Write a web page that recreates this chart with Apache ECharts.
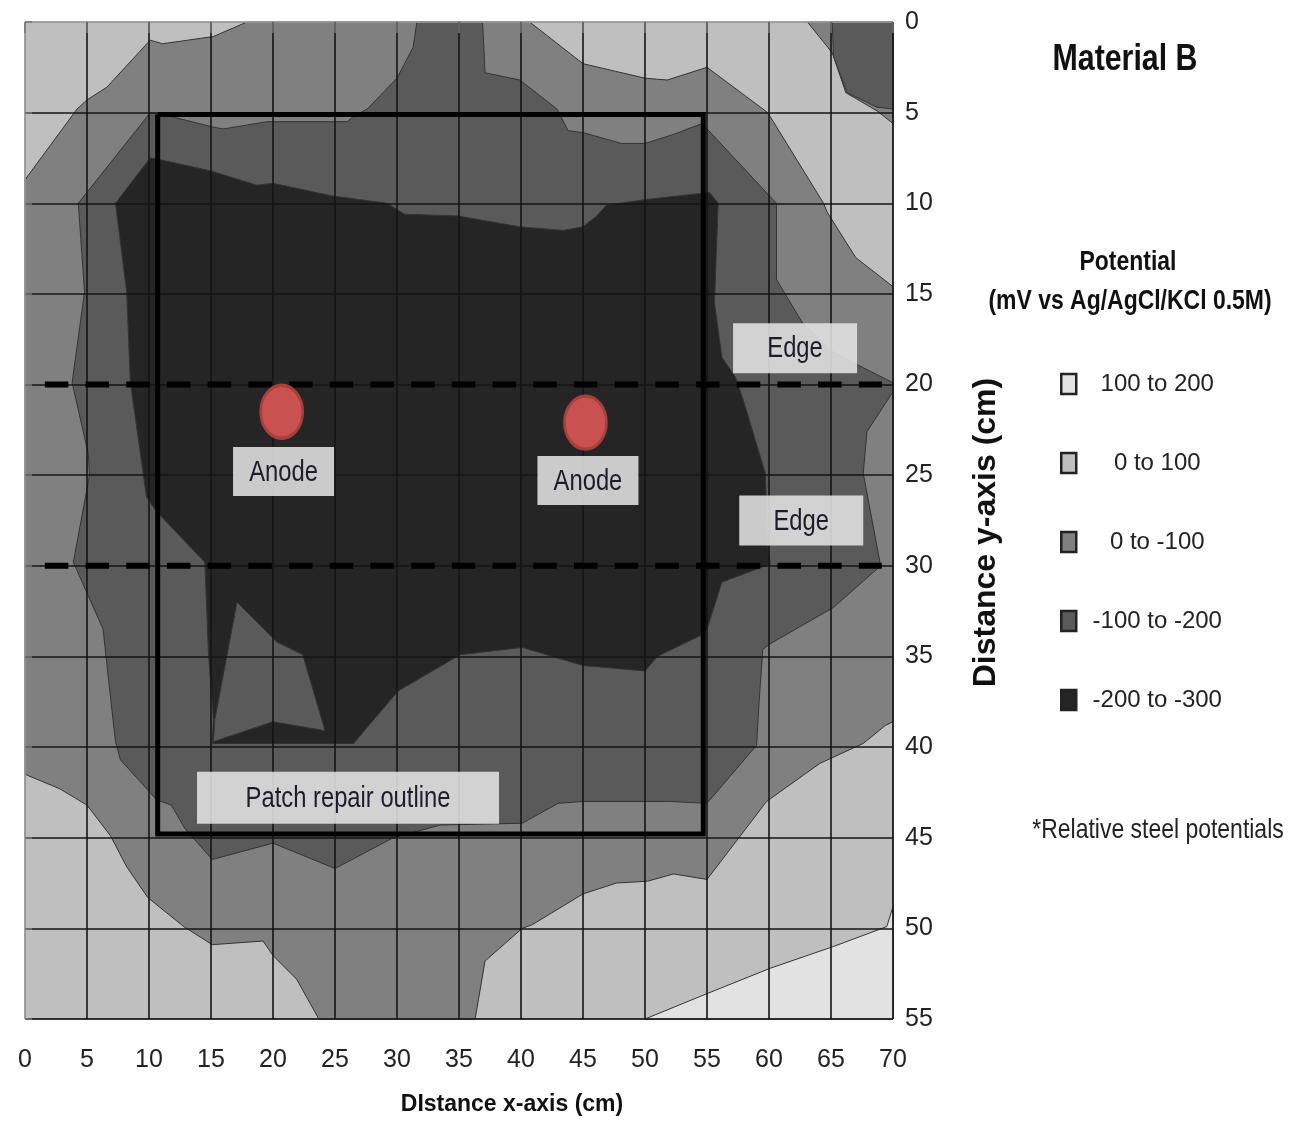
<!DOCTYPE html>
<html><head><meta charset="utf-8">
<script src="https://cdn.jsdelivr.net/npm/echarts@6/dist/echarts.min.js"></script>
<style>html,body{margin:0;padding:0;background:#fff}#c{width:1294px;height:1121px}</style>
</head><body><div id="c"></div>
<script>
// ---------- data (cm) ----------
const xTicks = [0,5,10,15,20,25,30,35,40,45,50,55,60,65,70];
const yTicks = [0,5,10,15,20,25,30,35,40,45,50,55];
const levelNames = ['100 to 200','0 to 100','0 to -100','-100 to -200','-200 to -300'];

// potential zones as contour polygons [x, y]
const zone0to100 = [[0,0],[70,0],[70,55],[0,55]];
const zone100to200 = [[50,55],[55,53.6],[60.1,52.2],[65.2,51.0],[69.5,49.9],[70,48.8],[70,55]];
const zoneBelow0 = [[0,8.7],[4.2,4.8],[5.0,4.3],[6.6,3.6],[10.1,1.0],[11.1,1.2],[15.2,0.8],[17.9,0],[40.7,0],[45.0,2.3],[50.0,3.1],[51.8,3.2],[55.0,2.5],[59.9,5.0],[64.4,10.0],[64.7,10.5],[67.0,13.0],[70,14.6],[70,38.6],[69.4,38.8],[67.6,39.8],[64.1,40.9],[59.8,43.0],[57.8,44.8],[55.0,47.3],[52.3,47.0],[50.2,47.4],[47.7,47.5],[45.0,48.1],[40.9,49.8],[40.1,50.0],[37.1,51.8],[36.3,55],[23.7,55],[21.9,52.8],[20.0,51.5],[19.2,50.7],[15.1,50.9],[12.8,49.9],[9.9,48.3],[8.2,46.6],[6.9,44.9],[5.0,43.2],[2.8,42.3],[0,41.5]];
const zoneBelow0Corner = [[63.1,0],[65.1,1.7],[66.2,3.9],[68.7,4.9],[70,5.6],[70,0]];
const zoneBelowM100 = [[31.6,0],[36.9,0],[37.1,2.8],[39.9,3.2],[42.9,4.8],[43.8,6.0],[45.0,6.1],[48.1,6.7],[50.0,6.7],[52.3,6.2],[54.6,5.6],[60.6,10.0],[60.6,14.2],[62.7,16.6],[64.9,18.1],[67.1,18.9],[70,19.9],[70,20.4],[67.9,22.6],[67.6,24.9],[69.0,30.0],[65.2,32.3],[60.1,34.3],[59.5,34.6],[59.2,37.5],[59.0,39.9],[55.0,43.1],[52.0,43.0],[45.0,43.0],[43.0,43.1],[40.1,44.2],[33.5,44.3],[29.7,45.0],[25.0,46.7],[20.0,45.3],[15.1,46.2],[12.9,44.5],[11.8,43.2],[10.6,42.9],[7.7,40.7],[7.3,39.7],[7.1,38.5],[6.5,34.8],[6.3,33.5],[3.9,29.8],[5.2,25.0],[5.1,23.8],[3.8,19.9],[4.8,14.9],[4.3,10.0],[10.1,5.0],[11.1,5.1],[15.2,5.8],[16.0,5.9],[19.5,5.5],[26.0,5.5],[26.5,5.2],[27.6,4.8],[30.0,3.1],[31.3,1.4]];
const zoneBelowM100Corner = [[65.1,0],[65.2,1.9],[66.3,3.9],[68.7,4.7],[70,4.8],[70,0]];
const zoneBelowM100Notch = [[17.1,32.0],[20.3,34.2],[22.4,34.9],[24.2,39.1],[20.0,38.6],[15.2,39.7],[15.3,38.5]];
const zoneBelowM200 = [[7.3,10.0],[10.1,7.5],[10.9,7.6],[14.9,8.2],[18.7,9.0],[20.0,8.9],[24.8,9.6],[29.2,10.0],[30.6,10.6],[34.9,10.7],[39.9,11.3],[43.4,11.5],[45.0,11.3],[46.1,10.7],[46.9,10.1],[50.0,9.8],[55.2,9.4],[55.9,10.0],[55.6,15.5],[56.2,18.5],[57.3,19.6],[57.9,20.8],[59.7,24.9],[59.9,28.9],[60.1,29.9],[56.2,30.9],[55.0,33.5],[54.6,33.8],[51.0,35.0],[50.0,35.8],[45.0,35.5],[40.1,34.5],[35.1,34.9],[30.1,36.9],[28.1,38.5],[26.5,39.8],[15.1,39.8],[15.2,38.5],[14.8,34.9],[14.5,29.8],[10.6,27.0],[9.8,26.2],[8.5,19.9],[8.2,14.9]];

// annotations
const patchOutline = [[10.7,5.1],[54.7,5.1],[54.7,44.8],[10.7,44.8],[10.7,5.1]];
const edgeLineY = [20, 30];
const edgeLineX = [1.6, 69.1];
const anodes = [[20.7,21.5],[45.2,22.1]];
const labelTexts = ['Anode','Anode','Edge','Edge','Patch repair outline'];
const labelAnchors = [[20.85,24.8],[45.4,25.3],[62.1,18.0],[62.6,27.5],[26.05,42.8]];

// ---------- rendering ----------
const SANS = '"Liberation Sans",Arial,sans-serif';
const NARROW_SCALE = 0.82;
const colors = {'100 to 200':'#e2e2e2','0 to 100':'#bfbfbf','0 to -100':'#808080','-100 to -200':'#5a5a5a','-200 to -300':'#252525'};
const boxSize = {'Anode':[101,49],'Edge':[124,50],'Patch repair outline':[302,52]};

function zoneSeries(name, polys) {
  return {
    type:'custom', name, coordinateSystem:'cartesian2d', z:1, silent:true,
    itemStyle:{color:colors[name]},
    data: polys.map((p,i)=>[i]),
    renderItem:(params, api)=>{
      const p = polys[params.dataIndex];
      return {type:'polygon', z2:p.order,
        shape:{points:p.pts.map(pt=>api.coord(pt))},
        style:{fill:colors[name], stroke:'#333', lineWidth:1}};
    }
  };
}

const series = [
  zoneSeries('0 to 100', [{pts:zone0to100, order:0}]),
  zoneSeries('100 to 200', [{pts:zone100to200, order:1}]),
  zoneSeries('0 to -100', [{pts:zoneBelow0, order:2},{pts:zoneBelow0Corner, order:2}]),
  zoneSeries('-100 to -200', [{pts:zoneBelowM100, order:3},{pts:zoneBelowM100Corner, order:3},{pts:zoneBelowM100Notch, order:5}]),
  zoneSeries('-200 to -300', [{pts:zoneBelowM200, order:4}]),
  {type:'line', name:'patch', data:patchOutline, symbol:'none', z:6, silent:true,
   lineStyle:{color:'#000', width:5, join:'miter'}},
];
edgeLineY.forEach(y=>series.push({type:'line', data:edgeLineX.map(x=>[x,y]), symbol:'none', z:6, silent:true,
   lineStyle:{color:'#000', width:6, type:[23.5,17.2], cap:'butt'}}));
series.push({type:'scatter', data:anodes, symbol:'circle', symbolSize:[42,53], z:7, silent:true,
   itemStyle:{color:'#c9514f', opacity:1, borderColor:'#a8403d', borderWidth:3}});
series.push({type:'custom', coordinateSystem:'cartesian2d', z:7, silent:true,
   data: labelAnchors.map((a,i)=>[a[0],a[1],i]),
   renderItem:(params, api)=>{
     const c = api.coord([api.value(0), api.value(1)]);
     const t = labelTexts[api.value(2)];
     const s = boxSize[t];
     return {type:'group', children:[
       {type:'rect', shape:{x:c[0]-s[0]/2, y:c[1]-s[1]/2, width:s[0], height:s[1]}, style:{fill:'rgba(226,226,226,0.88)'}},
       {type:'text', x:c[0], y:c[1]+1, scaleX:NARROW_SCALE, style:{text:t, fill:'#1c1c2a', font:'29px '+SANS, align:'center', verticalAlign:'middle'}}
     ]};
   }});

const gridColorsX = xTicks.map((v,i)=>i===0?'#a0a0a0':'#151515');
const gridColorsY = yTicks.map((v,i)=>i===0?'#a8a8a8':'#151515');

const chart = echarts.init(document.getElementById('c'), null, {renderer:'canvas'});
chart.setOption({
  animation:false,
  backgroundColor:'#fff',
  grid:{left:25, right:401, top:22, bottom:101, show:false},
  xAxis:{type:'value', min:0, max:70, interval:5, z:4,
    axisLine:{show:false},
    axisTick:{show:true, length:11, lineStyle:{color:'#777', width:1.5}},
    axisLabel:{fontFamily:SANS, fontSize:25, color:'#222', margin:29, formatter:v=>xTicks.includes(v)?String(v):''},
    splitLine:{show:true, lineStyle:{color:gridColorsX, width:1.6}},
    name:'DIstance x-axis (cm)', nameLocation:'middle', nameGap:74,
    nameTextStyle:{fontFamily:SANS, fontWeight:'bold', fontSize:23, color:'#111', padding:[0,0,0,106]}},
  yAxis:{type:'value', position:'right', inverse:true, min:0, max:55, interval:5, z:4,
    axisLine:{show:false},
    axisTick:{show:true, length:7, lineStyle:{color:'#777', width:1.5}},
    axisLabel:{fontFamily:SANS, fontSize:25, color:'#222', margin:12, formatter:v=>yTicks.includes(v)?String(v):''},
    splitLine:{show:true, lineStyle:{color:gridColorsY, width:1.6}},
    name:'Distance y-axis (cm)', nameLocation:'middle', nameGap:77, nameRotate:90,
    nameTextStyle:{fontFamily:SANS, fontWeight:'bold', fontSize:32, color:'#111', padding:[0,24,0,0]}},
  legend:{data:levelNames, orient:'vertical', left:1055, top:367, icon:'rect', itemWidth:15, itemHeight:20, itemGap:55,
    selectedMode:false,
    itemStyle:{borderColor:'#222', borderWidth:2.5},
    formatter:n=>'{c|'+n+'}',
    textStyle:{rich:{c:{width:152, align:'center', fontFamily:SANS, fontSize:24, color:'#222'}}}},
  graphic:[
    {type:'text', x:1125, y:60, scaleX:NARROW_SCALE, style:{text:'Material B', font:'bold 37px '+SANS, fill:'#111', align:'center', verticalAlign:'middle'}},
    {type:'text', x:1128, y:262, scaleX:NARROW_SCALE, style:{text:'Potential', font:'bold 28px '+SANS, fill:'#111', align:'center', verticalAlign:'middle'}},
    {type:'text', x:1130, y:301, scaleX:NARROW_SCALE, style:{text:'(mV vs Ag/AgCl/KCl 0.5M)', font:'bold 28px '+SANS, fill:'#111', align:'center', verticalAlign:'middle'}},
    {type:'text', x:1158, y:830, scaleX:NARROW_SCALE, style:{text:'*Relative steel potentials', font:'28px '+SANS, fill:'#222', align:'center', verticalAlign:'middle'}}
  ],
  series
});
</script></body></html>
